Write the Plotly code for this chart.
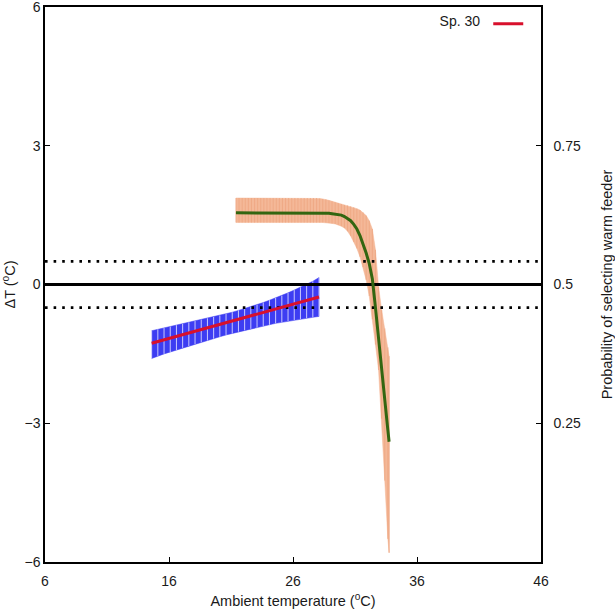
import plotly.graph_objects as go

# ---- data ----
# cold-feeder species band (blue) and fitted line (red)
x_cold = [14.6, 15.1, 15.6, 16.1, 16.6, 17.1, 17.6, 18.1, 18.6, 19.1, 19.6, 20.1, 20.6, 21.1,
          21.6, 22.1, 22.6, 23.1, 23.6, 24.1, 24.6, 25.1, 25.6, 26.1, 26.6, 27.1, 27.6, 28.1]
up_cold = [-1.00, -0.97, -0.94, -0.91, -0.88, -0.85, -0.82, -0.79, -0.76, -0.73, -0.70, -0.67, -0.63, -0.60,
           -0.56, -0.52, -0.48, -0.44, -0.39, -0.34, -0.29, -0.24, -0.18, -0.12, -0.06, 0.00, 0.07, 0.15]
lo_cold = [-1.60, -1.55, -1.50, -1.46, -1.42, -1.37, -1.33, -1.29, -1.25, -1.21, -1.17, -1.13, -1.09, -1.06,
           -1.02, -0.99, -0.96, -0.93, -0.90, -0.87, -0.84, -0.82, -0.79, -0.77, -0.75, -0.73, -0.71, -0.69]
x_fit = [14.6, 28.1]
y_fit = [-1.27, -0.27]

# warm-feeder probability band (orange) and curve (green), in delta-T units
x_warm = [21.40, 21.65, 21.90, 22.15, 22.40, 22.65, 22.90, 23.15, 23.40, 23.65, 23.90, 24.15, 24.40,
          24.65, 24.90, 25.15, 25.40, 25.65, 25.90, 26.15, 26.40, 26.65, 26.90, 27.15, 27.40, 27.65,
          27.90, 28.15, 28.40, 28.65, 28.90, 29.15, 29.40, 29.65, 29.90, 30.15, 30.40, 30.65, 30.90,
          31.15, 31.40, 31.65, 31.90, 32.15, 32.40, 32.65, 32.90, 33.15, 33.40, 33.65, 33.75]
up_warm = [1.87, 1.87, 1.87, 1.87, 1.87, 1.87, 1.87, 1.87, 1.87, 1.87, 1.87, 1.87, 1.87,
           1.87, 1.87, 1.87, 1.87, 1.87, 1.87, 1.87, 1.87, 1.87, 1.87, 1.87, 1.87, 1.87,
           1.87, 1.86, 1.85, 1.84, 1.82, 1.80, 1.78, 1.76, 1.74, 1.72, 1.71, 1.69, 1.67,
           1.64, 1.61, 1.56, 1.49, 1.38, 1.20, 0.75, -0.05, -0.55, -0.95, -1.36, -1.55]
lo_warm = [1.34, 1.34, 1.34, 1.34, 1.34, 1.34, 1.34, 1.34, 1.34, 1.34, 1.34, 1.34, 1.34,
           1.34, 1.34, 1.34, 1.34, 1.34, 1.34, 1.34, 1.34, 1.34, 1.34, 1.34, 1.34, 1.34,
           1.34, 1.34, 1.34, 1.34, 1.33, 1.32, 1.31, 1.29, 1.26, 1.22, 1.15, 1.05, 0.92,
           0.78, 0.60, 0.38, 0.10, -0.25, -0.75, -1.30, -1.85, -2.90, -4.24, -5.50, -5.80]
mid_warm = [1.55, 1.55, 1.55, 1.55, 1.55, 1.55, 1.55, 1.55, 1.55, 1.55, 1.55, 1.55, 1.55,
            1.55, 1.55, 1.55, 1.55, 1.55, 1.55, 1.55, 1.55, 1.55, 1.55, 1.55, 1.55, 1.55,
            1.55, 1.55, 1.55, 1.55, 1.54, 1.53, 1.52, 1.51, 1.50, 1.47, 1.43, 1.38, 1.30,
            1.20, 1.06, 0.89, 0.68, 0.45, 0.12, -0.50, -1.20, -1.90, -2.55, -3.15, -3.40]

# reference levels
ref_solid = 0.0
ref_dotted = [0.5, -0.5]

x_ticks = [6, 16, 26, 36, 46]
y_ticks = [-6, -3, 0, 3, 6]
p_ticks = [0.25, 0.5, 0.75]
p_labels = ["0.25", "0.5", "0.75"]

FONT = "Liberation Sans, Arial, sans-serif"
TXT = "#1a1a1a"


def band_polygon(x, up, lo):
    return list(x) + list(x)[::-1], list(up) + list(lo)[::-1]


def stripes(x, up, lo):
    xs, ys = [], []
    for xi, u, l in zip(x, up, lo):
        xs += [xi, xi, None]
        ys += [l, u, None]
    return xs, ys


fig = go.Figure()

# blue band
px, py = band_polygon(x_cold, up_cold, lo_cold)
fig.add_trace(go.Scatter(x=px, y=py, fill="toself", mode="lines",
                         fillcolor="#3D3DF2", line=dict(color="#3D3DF2", width=0.5),
                         showlegend=False, hoverinfo="skip"))
sx, sy = stripes(x_cold, up_cold, lo_cold)
fig.add_trace(go.Scatter(x=sx, y=sy, mode="lines",
                         line=dict(color="rgba(215,215,255,0.9)", width=1),
                         showlegend=False, hoverinfo="skip"))

# orange band
px, py = band_polygon(x_warm, up_warm, lo_warm)
fig.add_trace(go.Scatter(x=px, y=py, fill="toself", mode="lines",
                         fillcolor="#F4B898", line=dict(color="#F4B898", width=0.5),
                         showlegend=False, hoverinfo="skip"))
sx, sy = stripes(x_warm, up_warm, lo_warm)
fig.add_trace(go.Scatter(x=sx, y=sy, mode="lines",
                         line=dict(color="#EDA682", width=0.8),
                         showlegend=False, hoverinfo="skip"))

# reference lines
fig.add_trace(go.Scatter(x=[x_ticks[0], x_ticks[-1]], y=[ref_solid, ref_solid], mode="lines",
                         line=dict(color="black", width=3), showlegend=False, hoverinfo="skip"))
for r in ref_dotted:
    fig.add_trace(go.Scatter(x=[x_ticks[0], x_ticks[-1]], y=[r, r], mode="lines",
                             line=dict(color="black", width=2.6, dash="2.6px,6px"),
                             showlegend=False, hoverinfo="skip"))

# fitted lines
fig.add_trace(go.Scatter(x=x_fit, y=y_fit, mode="lines", name="",
                         line=dict(color="#D8102C", width=3), showlegend=True))
fig.add_trace(go.Scatter(x=x_warm, y=mid_warm, mode="lines",
                         line=dict(color="#336611", width=3), showlegend=False))

# invisible trace to anchor the probability axis
fig.add_trace(go.Scatter(x=[x_ticks[0], x_ticks[-1]], y=[0, 1], yaxis="y2", mode="lines",
                         line=dict(width=0), opacity=0, showlegend=False, hoverinfo="skip"))

axis_common = dict(showgrid=False, zeroline=False, showline=True, linecolor="black",
                   linewidth=1.5, ticks="inside", ticklen=5, tickwidth=1.2, tickcolor="black",
                   automargin=False,
                   tickfont=dict(family=FONT, size=14, color=TXT))

fig.update_layout(
    template="none",
    width=615, height=613,
    margin=dict(l=45, r=74, t=7, b=51),
    paper_bgcolor="white", plot_bgcolor="white",
    font=dict(family=FONT, size=14, color=TXT),
    xaxis=dict(range=[6, 46], tickvals=x_ticks, mirror=True, ticklabelstandoff=5,
               title=dict(text="Ambient temperature (<sup>o</sup>C)", standoff=8,
                          font=dict(family=FONT, size=14.5, color=TXT)),
               **axis_common),
    yaxis=dict(range=[-6, 6], tickvals=y_ticks, ticklabeloverflow="allow",
               title=dict(text="ΔT (<sup>o</sup>C)", standoff=10,
                          font=dict(family=FONT, size=14.5, color=TXT)),
               **axis_common),
    yaxis2=dict(range=[0, 1], tickvals=p_ticks, ticktext=p_labels, overlaying="y", side="right",
                ticklabeloverflow="allow", ticklabelstandoff=8,
                title=dict(text="Probability of selecting warm feeder", standoff=22,
                           font=dict(family=FONT, size=14.5, color=TXT)),
                **axis_common),
    legend=dict(x=0.985, xanchor="right", y=0.998, yanchor="top",
                bgcolor="rgba(0,0,0,0)",
                title=dict(text="Sp. 30", side="left", font=dict(family=FONT, size=14, color=TXT)),
                font=dict(family=FONT, size=14)),
)

fig.write_html("out.html", config={"displayModeBar": False},
               post_script="document.body.style.margin='0px';")
